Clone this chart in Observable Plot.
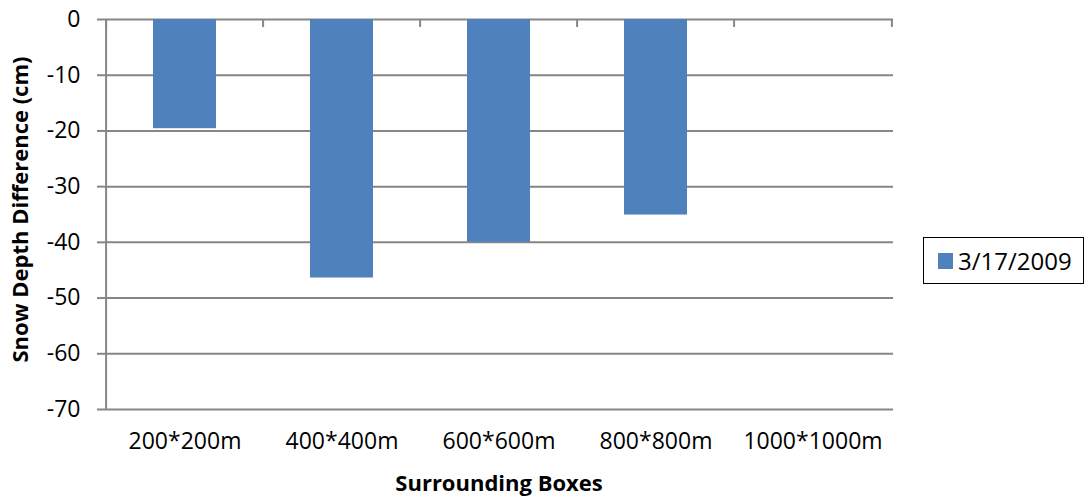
<!DOCTYPE html>
<html>
<head>
<meta charset="utf-8">
<script src="https://cdn.jsdelivr.net/npm/d3@7"></script>
<script src="https://cdn.jsdelivr.net/npm/@observablehq/plot@0.6"></script>
<style>
  body { margin: 0; background: #fff; }
  #wrap { position: relative; width: 1085px; height: 500px; font-family: "Open Sans", sans-serif; }
  #legend { position: absolute; left: 923px; top: 237px; width: 159px; height: 45px; border: 1.5px solid #000; background: #fff; }
  #legend .sw { position: absolute; left: 14px; top: 15px; width: 15px; height: 16px; background: #4F81BD; }
  #legend .lb { position: absolute; left: 34px; top: 0; line-height: 45px; font-size: 24px; color: #000; }
</style>
</head>
<body>
<div id="wrap"></div>
<script>
const categories = ["200*200m", "400*400m", "600*600m", "800*800m", "1000*1000m"];
const values = [-19.6, -46.4, -40.0, -35.1, 0];
const yTicks = [0, -10, -20, -30, -40, -50, -60, -70];
const seriesName = "3/17/2009";
const xTitle = "Surrounding Boxes";
const yTitle = "Snow Depth Difference (cm)";

const data = categories.map((c, i) => ({cat: c, val: values[i]}));

const W = 1085, H = 500, ml = 104, mr = 192, mt = 19, mb = 91;
const bw = (W - ml - mr) / categories.length;
const tickLen = 8;
const tickVal = tickLen * 70 / (H - mt - mb);
const gridColor = "#868686";
const fontFamily = "'Open Sans', sans-serif";

const chart = Plot.plot({
  width: W, height: H,
  marginLeft: ml, marginRight: mr, marginTop: mt, marginBottom: mb,
  style: {fontFamily, fontSize: "23px", color: "#000", background: "#fff"},
  x: {type: "band", domain: categories, paddingInner: 0.6, paddingOuter: 0.3, label: null},
  y: {domain: [-70, 0], label: null},
  marks: [
    Plot.ruleY(yTicks, {stroke: gridColor, strokeWidth: 2}),
    Plot.barY(data, {x: "cat", y: "val", fill: "#4F81BD"}),
    Plot.ruleX([categories[0]], {dx: -bw / 2, y1: -70, y2: 0, stroke: gridColor, strokeWidth: 2}),
    Plot.ruleX(categories, {dx: -bw / 2, y1: 0, y2: -tickVal, stroke: gridColor, strokeWidth: 2}),
    Plot.ruleX([categories[categories.length - 1]], {dx: bw / 2, y1: 0, y2: -tickVal, stroke: gridColor, strokeWidth: 2}),
    Plot.axisY({ticks: yTicks, tickSize: 7, tickPadding: 17, tickFormat: d => String(d), stroke: gridColor, strokeWidth: 2, fill: "#000", fontSize: 23, label: null}),
    Plot.axisX({anchor: "bottom", tickSize: 0, tickPadding: 23, fontSize: 23, fill: "#000", label: null}),
    Plot.text([xTitle], {frameAnchor: "bottom", dy: 81, fontWeight: "bold", fontSize: 22, fill: "#000"}),
    Plot.text([yTitle], {frameAnchor: "left", dx: -84, dy: -5, rotate: -90, textAnchor: "middle", fontWeight: "bold", fontSize: 22, fill: "#000"})
  ]
});

const wrap = document.getElementById("wrap");
wrap.appendChild(chart);
const legend = document.createElement("div");
legend.id = "legend";
legend.innerHTML = `<div class="sw"></div><div class="lb"></div>`;
legend.querySelector(".lb").textContent = seriesName;
wrap.appendChild(legend);
</script>
</body>
</html>
